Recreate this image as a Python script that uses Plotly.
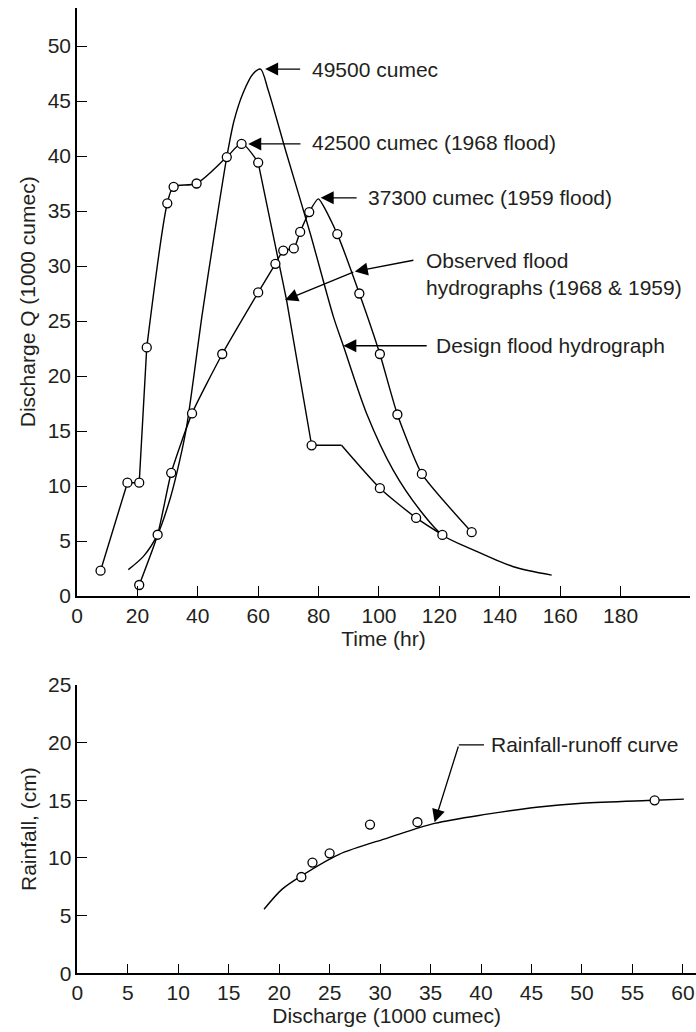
import plotly.graph_objects as go

# ---------------- Top chart: flood hydrographs ----------------
# 1968 observed flood (circles)
t_1968 = [7.8, 16.7, 20.6, 23.1, 29.9, 32.0, 39.6, 49.6, 54.5, 60.0, 77.7, 100.3, 112.3, 121.0]
q_1968 = [2.3, 10.3, 10.3, 22.6, 35.7, 37.2, 37.5, 39.9, 41.1, 39.4, 13.7, 9.8, 7.1, 5.55]
# 1968 line pieces (vertices incl. bends without circles)
rise_1968_t = [7.8, 16.7, 20.6, 23.1]
rise_1968_q = [2.3, 10.3, 10.3, 22.6]
crest_1968_t = [23.1, 29.9, 32.0, 39.6, 49.6, 54.5, 60.0]
crest_1968_q = [22.6, 35.7, 37.2, 37.5, 39.9, 41.1, 39.4]
fall_1968_t = [60.0, 69.4, 77.7, 87.6]
fall_1968_q = [39.4, 26.9, 13.7, 13.7]
recess_1968_t = [87.6, 100.3, 112.3, 121.0]
recess_1968_q = [13.7, 9.8, 7.1, 5.55]

# 1959 observed flood (circles)
t_1959 = [20.6, 26.7, 31.2, 38.1, 48.1, 60.0, 65.7, 68.3, 71.8, 73.9, 76.9, 86.2, 93.5, 100.3, 106.1, 114.2, 130.7]
q_1959 = [1.0, 5.57, 11.2, 16.6, 22.0, 27.6, 30.2, 31.4, 31.6, 33.1, 34.9, 32.9, 27.5, 22.0, 16.5, 11.1, 5.8]
line_1959_t = [20.6, 26.7, 31.2, 38.1, 48.1, 60.0, 65.7, 68.3, 71.8, 73.9, 76.9, 79.9, 86.2, 93.5, 100.3, 106.1, 114.2, 130.7]
line_1959_q = [1.0, 5.57, 11.2, 16.6, 22.0, 27.6, 30.2, 31.4, 31.6, 33.1, 34.9, 36.1, 32.9, 27.5, 22.0, 16.5, 11.1, 5.8]

# Design flood hydrograph
t_design = [17.0, 22.0, 26.7, 31.0, 34.0, 36.3, 38.5, 41.3, 45.5, 49.6, 52.0, 55.1, 58.4, 60.8,
            63.3, 69.4, 77.2, 84.9, 88.2, 95.9, 104.7, 113.6, 121.0, 131.2, 144.5, 157.2]
q_design = [2.4, 3.6, 5.6, 9.0, 12.3, 15.4, 19.6, 25.3, 32.9, 39.9, 43.2, 45.8, 47.5, 47.9,
            46.0, 40.2, 33.0, 25.4, 22.75, 16.6, 11.45, 7.8, 5.55, 4.2, 2.66, 1.9]

x_ticks_top = [0, 20, 40, 60, 80, 100, 120, 140, 160, 180]
y_ticks_top = [0, 5, 10, 15, 20, 25, 30, 35, 40, 45, 50]

# ---------------- Bottom chart: rainfall-runoff ----------------
rr_discharge = [22.2, 23.3, 25.0, 29.0, 33.7, 57.2]
rr_rainfall = [8.35, 9.6, 10.4, 12.9, 13.1, 15.0]
curve_discharge = [18.5, 20.3, 22.2, 25.9, 30.8, 35.4, 40.6, 45.5, 50.0, 57.2, 60.1]
curve_rainfall = [5.55, 7.3, 8.45, 10.3, 11.75, 13.0, 13.8, 14.4, 14.75, 15.0, 15.1]
x_ticks_bot = [0, 5, 10, 15, 20, 25, 30, 35, 40, 45, 50, 55, 60]
y_ticks_bot = [0, 5, 10, 15, 20, 25]

INK = "#231f20"
FONT = "Liberation Sans, Arial, Helvetica, sans-serif"
FS = 21
LW = 1.4

fig = go.Figure()


def add_line(x, y, xa, ya, shape="linear", smoothing=1.0):
    kw = dict(shape=shape, color="black", width=LW)
    if shape == "spline":
        kw["smoothing"] = smoothing
    fig.add_trace(go.Scatter(x=x, y=y, mode="lines", line=kw, xaxis=xa, yaxis=ya,
                             hoverinfo="skip", showlegend=False))


def add_circles(x, y, xa, ya):
    fig.add_trace(go.Scatter(x=x, y=y, mode="markers", xaxis=xa, yaxis=ya,
                             marker=dict(symbol="circle", size=9, color="white",
                                         line=dict(color="black", width=1.3)),
                             showlegend=False))


# top chart lines
add_line(t_design, q_design, "x", "y", "spline", 0.8)
add_line(line_1959_t, line_1959_q, "x", "y", "spline", 0.5)
add_line(rise_1968_t, rise_1968_q, "x", "y")
add_line(crest_1968_t, crest_1968_q, "x", "y", "spline", 0.8)
add_line(fall_1968_t, fall_1968_q, "x", "y")
add_line(recess_1968_t, recess_1968_q, "x", "y", "spline", 0.6)
add_circles(t_1968, q_1968, "x", "y")
add_circles(t_1959, q_1959, "x", "y")

# bottom chart
add_line(curve_discharge, curve_rainfall, "x2", "y2", "spline", 0.9)
add_circles(rr_discharge, rr_rainfall, "x2", "y2")

W, H = 696, 1032


def px_x(p):
    return p / W


def px_y(p):
    return (H - p) / H


axis_common = dict(showgrid=False, zeroline=False, showline=True, linecolor="black",
                   linewidth=1.5, ticks="inside", ticklen=10, tickwidth=1.3,
                   tickcolor="black", automargin=False, ticklabeloverflow="allow",
                   tickfont=dict(family=FONT, size=FS, color=INK),
                   title_font=dict(family=FONT, size=FS, color=INK))

fig.update_layout(
    width=W, height=H,
    margin=dict(l=0, r=0, t=0, b=0),
    paper_bgcolor="white", plot_bgcolor="white",
    showlegend=False,
    xaxis=dict(domain=[px_x(77), px_x(690)], range=[0, 203], anchor="y",
               tickvals=x_ticks_top, title=dict(text="Time (hr)", standoff=2),
               **axis_common),
    yaxis=dict(domain=[px_y(596), px_y(7.5)], range=[0, 53.5], anchor="x",
               tickvals=y_ticks_top, title=dict(text="Discharge Q (1000 cumec)", standoff=6),
               **axis_common),
    xaxis2=dict(domain=[px_x(77.3), 1.0], range=[0, 61.3], anchor="y2",
                tickvals=x_ticks_bot, title=dict(text="Discharge (1000 cumec)", standoff=4),
                **axis_common),
    yaxis2=dict(domain=[px_y(973.3), px_y(685)], range=[0, 25], anchor="x2",
                tickvals=y_ticks_bot, title=dict(text="Rainfall, (cm)", standoff=6),
                **axis_common),
)

ann_font = dict(family=FONT, size=FS, color=INK)


def arrow(x_tip, y_tip, x_tail, y_tail, xr="x", yr="y"):
    fig.add_annotation(x=x_tip, y=y_tip, ax=x_tail, ay=y_tail, xref=xr, yref=yr,
                       axref=xr, ayref=yr, text="", showarrow=True, arrowhead=2,
                       arrowsize=2, arrowwidth=1.3, arrowcolor="black", standoff=0)


def label(x, y, text, xr="x", yr="y"):
    fig.add_annotation(x=x, y=y, xref=xr, yref=yr, text=text, showarrow=False,
                       xanchor="left", yanchor="middle", align="left", font=ann_font)


arrow(62.3, 47.9, 74.4, 47.9)
label(77.0, 47.9, "49500 cumec")
arrow(56.7, 41.1, 74.5, 41.1)
label(77.0, 41.2, "42500 cumec (1968 flood)")
arrow(80.7, 36.2, 93.1, 36.2)
label(95.7, 36.25, "37300 cumec (1959 flood)")
arrow(92.0, 29.5, 111.9, 30.55)
arrow(68.9, 26.9, 92.0, 29.5)
label(115.0, 29.3, "Observed flood<br>hydrographs (1968 & 1959)")
arrow(88.2, 22.75, 116.3, 22.75)
label(118.3, 22.75, "Design flood hydrograph")

# bottom annotation with bent leader
fig.add_shape(type="line", xref="x2", yref="y2", x0=37.8, y0=19.8, x1=40.3, y1=19.8,
              line=dict(color="black", width=1.3))
arrow(35.4, 13.1, 37.8, 19.8, "x2", "y2")
label(40.8, 19.8, "Rainfall-runoff curve", "x2", "y2")

fig.write_html("out.html", config={"displayModeBar": False},
               post_script="document.body.style.margin='0';")
